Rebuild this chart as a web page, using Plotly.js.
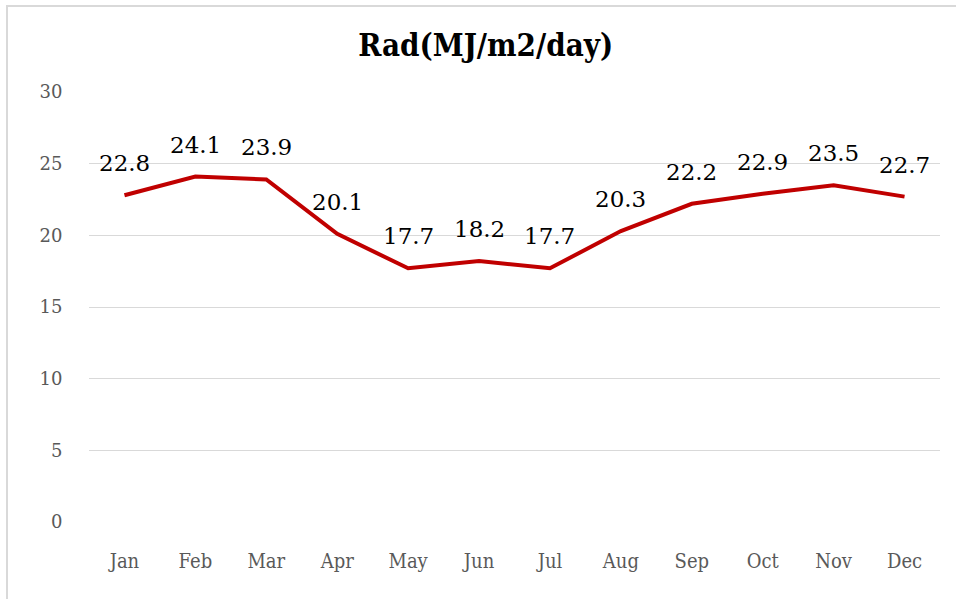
<!DOCTYPE html>
<html>
<head>
<meta charset="utf-8">
<script src="https://cdn.plot.ly/plotly-3.0.1.min.js"></script>
<style>
  html, body { margin: 0; padding: 0; background: #ffffff; overflow: hidden; }
  #frame { position: absolute; left: 6px; top: 5px; width: 1000px; height: 1000px; border-left: 2px solid #d9d9d9; border-top: 2px solid #d9d9d9; }
  #chart { position: absolute; left: 0; top: 0; width: 956px; height: 599px; }
</style>
</head>
<body>
<div id="frame"></div>
<div id="chart"></div>
<script>
const months = ['Jan','Feb','Mar','Apr','May','Jun','Jul','Aug','Sep','Oct','Nov','Dec'];
const rad = [22.8, 24.1, 23.9, 20.1, 17.7, 18.2, 17.7, 20.3, 22.2, 22.9, 23.5, 22.7];
const yTicks = [0, 5, 10, 15, 20, 25, 30];
const chartTitle = 'Rad(MJ/m2/day)';

const trace = {
  x: months,
  y: rad,
  type: 'scatter',
  mode: 'lines',
  line: { color: '#c00000', width: 4 },
  hoverinfo: 'skip'
};

const annotations = months.map((m, i) => ({
  x: m, y: rad[i], xref: 'x', yref: 'y',
  text: rad[i].toFixed(1),
  showarrow: false,
  yshift: 32,
  font: { family: 'DejaVu Serif', size: 23, color: '#000000' }
}));

const layout = {
  width: 956, height: 599,
  paper_bgcolor: 'rgba(0,0,0,0)',
  plot_bgcolor: 'rgba(0,0,0,0)',
  margin: { l: 89, r: 16, t: 92, b: 77 },
  showlegend: false,
  title: {
    text: '<b>' + chartTitle + '</b>',
    x: 0.508, xanchor: 'center',
    y: 1 - 45 / 599, yref: 'container', yanchor: 'middle',
    font: { family: 'DejaVu Serif Condensed', size: 31, color: '#000000' }
  },
  xaxis: {
    type: 'category',
    range: [-0.5, 11.5],
    showgrid: false, zeroline: false, showline: false,
    ticks: 'outside', ticklen: 21, tickcolor: 'rgba(0,0,0,0)',
    tickfont: { family: 'DejaVu Serif Condensed', size: 20, color: '#595959' }
  },
  yaxis: {
    range: [0, 30],
    tickvals: yTicks,
    showgrid: true, gridcolor: '#d9d9d9', gridwidth: 1,
    zeroline: false, showline: false,
    ticks: 'outside', ticklen: 22, tickcolor: 'rgba(0,0,0,0)',
    tickfont: { family: 'DejaVu Serif', size: 18, color: '#595959' }
  },
  annotations: annotations
};

Plotly.newPlot('chart', [trace], layout, { displayModeBar: false, staticPlot: true });
</script>
</body>
</html>
